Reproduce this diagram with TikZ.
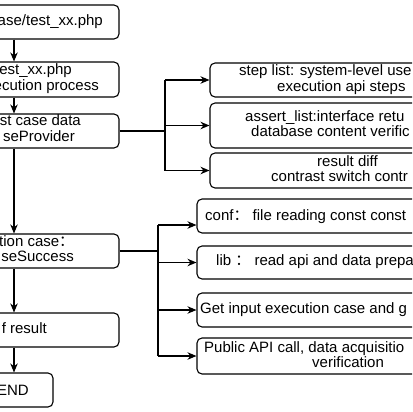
\documentclass[tikz,border=0pt]{standalone}
\usepackage{fontspec}
\setmainfont{Liberation Sans}
\newfontfamily\cjk{Noto Sans CJK SC}
\usetikzlibrary{arrows.meta}

\begin{document}
\begin{tikzpicture}[x=1pt,y=-1pt,>={Stealth[length=9pt,width=7.5pt]},
  box/.style={draw,rounded corners=5pt,line width=1.1pt,inner sep=0pt},
  lbl/.style={inner sep=0pt,font=\fontsize{15}{16}\selectfont},
  link/.style={line width=1.1pt}]
  \useasboundingbox (0,0) rectangle (412,412);
  \clip (0,0) rectangle (412,412);
  % main flow
  \node[box,minimum width=210pt,minimum height=34pt] (m1) at (14,22) {};
  \node[box,minimum width=210pt,minimum height=35pt] (m2) at (14,79.5) {};
  \node[box,minimum width=210pt,minimum height=34pt] (m3) at (14,131) {};
  \node[box,minimum width=210pt,minimum height=34pt] (m4) at (14,251) {};
  \node[box,minimum width=210pt,minimum height=34pt] (m5) at (14,330) {};
  \node[box,minimum width=78pt,minimum height=34pt] (m6) at (14,390) {};
  \node[lbl,anchor=mid east] (m1a) at (103,23) {ase/test\_xx.php};
  \node[lbl,anchor=mid east] (m2a) at (72,72) {est\_xx.php};
  \node[lbl,anchor=mid east] (m2b) at (99,88) {ecution process};
  \node[lbl,anchor=mid east] (m3a) at (81,123) {st case data};
  \node[lbl,anchor=mid east] (m3b) at (75,139) {seProvider};
  \node[lbl,anchor=mid west] (m4a) at (-1,244) {tion case{\cjk ：}};
  \node[lbl,anchor=mid east] (m4b) at (74,259) {seSuccess};
  \node[lbl,anchor=mid east] (m5a) at (47,331) {f result};
  \node[lbl,anchor=base east] (m6a) at (29,395) {END};
  \draw[link,->] (m1) -- (m2);
  \draw[link,->] (m2) -- (m3);
  \draw[link,->] (m3) -- (m4);
  \draw[link,->] (m4) -- (m5);
  \draw[link,->] (m5) -- (m6);
  % data provider branch
  \node[box,minimum width=280pt,minimum height=34pt] (r1) at (350,80) {};
  \node[box,minimum width=280pt,minimum height=45pt] (r2) at (350,125.5) {};
  \node[box,minimum width=280pt,minimum height=35pt] (r3) at (350,170.5) {};
  \node[lbl,anchor=mid west] (r1a) at (239,73) {step list: system-level use};
  \node[lbl,anchor=mid west] (r1b) at (277,89) {execution api steps};
  \node[lbl,anchor=mid west] (r2a) at (245,119) {assert\_list:interface retu};
  \node[lbl,anchor=mid west] (r2b) at (251,134) {database content verific};
  \node[lbl,anchor=mid west] (r3a) at (317,164) {result diff};
  \node[lbl,anchor=mid west] (r3b) at (271,179) {contrast switch contr};
  \coordinate (j1) at (165,131);
  \draw[link,line width=1.6pt] (m3.east) -- (j1);
  \draw[link] (j1 |- r1.west) -- (j1 |- r3.west);
  \draw[link,->] (j1 |- r1.west) -- (r1.west);
  \draw[link,->] (j1 |- r2.west) -- (r2.west);
  \draw[link,->] (j1 |- r3.west) -- (r3.west);
  % assertion branch
  \node[box,minimum width=300pt,minimum height=34pt] (s1) at (347,216) {};
  \node[box,minimum width=300pt,minimum height=33pt] (s2) at (347,262.5) {};
  \node[box,minimum width=300pt,minimum height=34pt] (s3) at (347,310) {};
  \node[box,minimum width=300pt,minimum height=36pt] (s4) at (347,356) {};
  \node[lbl,anchor=mid west] (s1a) at (205,218) {conf{\cjk ：} file reading const const};
  \node[lbl,anchor=mid west] (s2a) at (216,263) {lib {\cjk ：} read api and data prepa};
  \node[lbl,anchor=mid west] (s3a) at (200,311) {Get input execution case and g};
  \node[lbl,anchor=mid west] (s4a) at (204,350) {Public API call, data acquisitio};
  \node[lbl,anchor=mid west] (s4b) at (312,365) {verification};
  \coordinate (j2) at (158,251);
  \coordinate (s1in) at ([yshift=-9pt]s1.west);
  \draw[link] (m4.east) -- (j2);
  \draw[link] (j2 |- s1in) -- (j2 |- s4.west);
  \draw[link,->] (j2 |- s1in) -- (s1in);
  \draw[link,->] (j2 |- s2.west) -- (s2.west);
  \draw[link,->] (j2 |- s3.west) -- (s3.west);
  \draw[link,->] (j2 |- s4.west) -- (s4.west);
\end{tikzpicture}
\end{document}
